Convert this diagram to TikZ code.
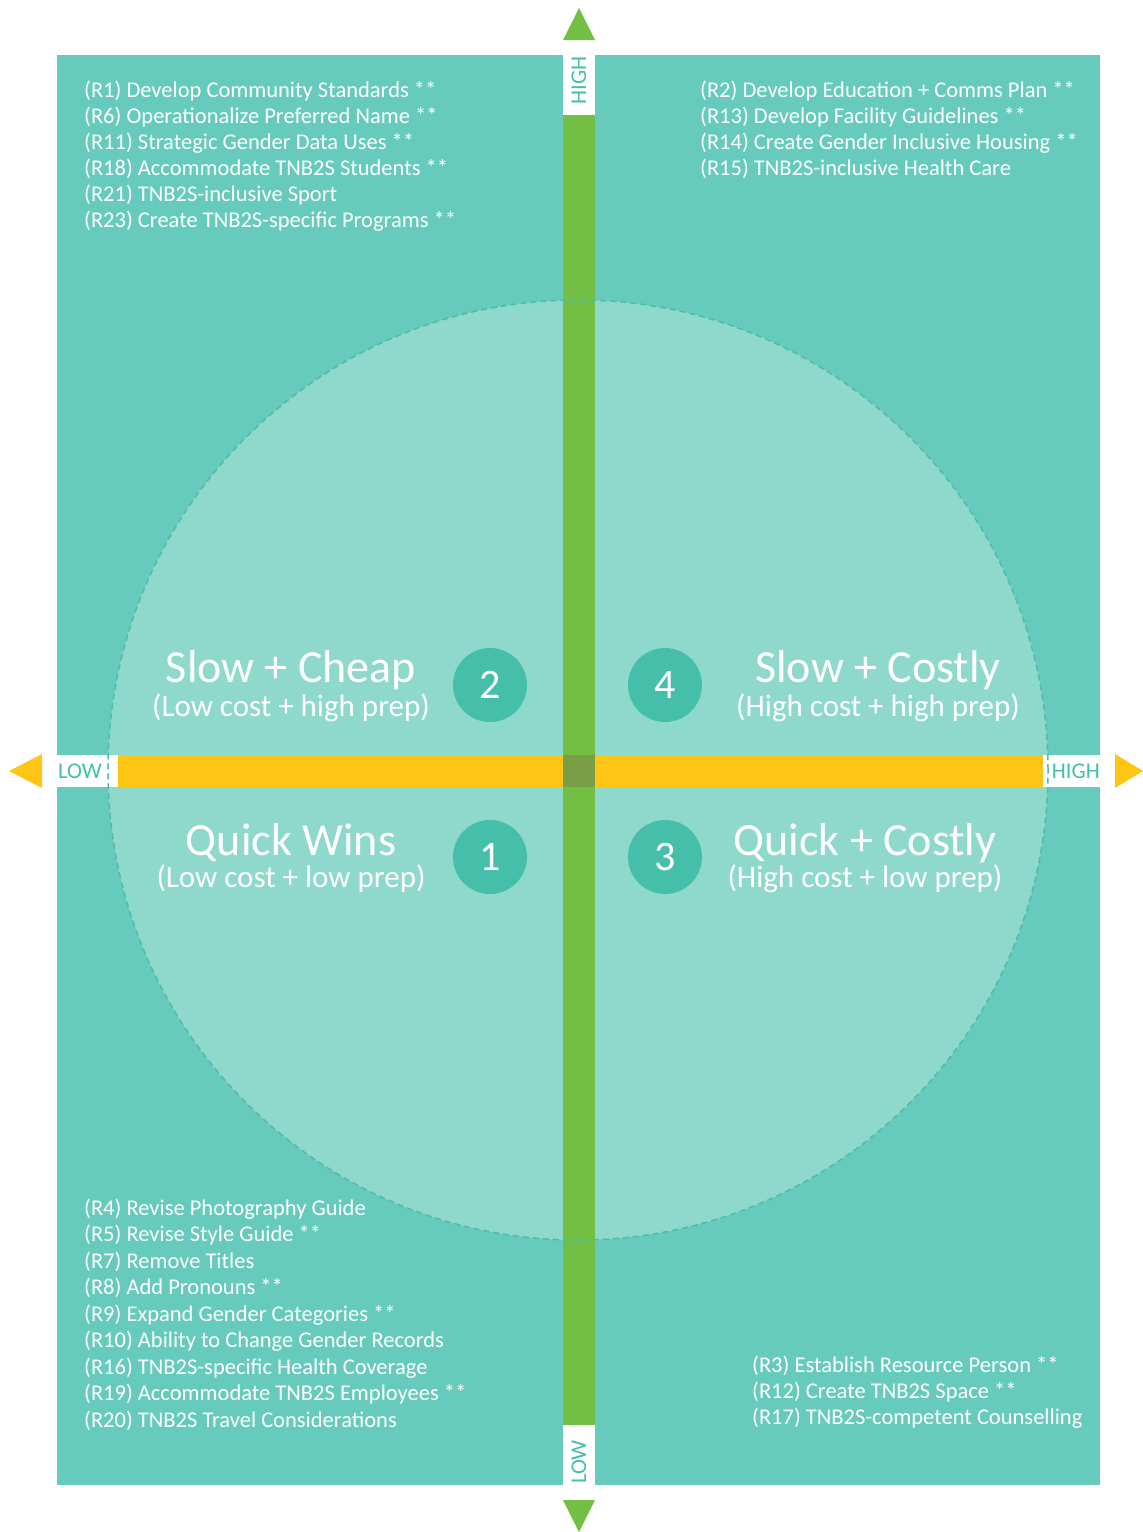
\documentclass[tikz,border=0pt]{standalone}
\usepackage{fontspec}
\setmainfont{Carlito}
\definecolor{outerteal}{HTML}{66CBBC}
\definecolor{innerteal}{HTML}{8FD9CC}
\definecolor{dashteal}{HTML}{4DBCA8}
\definecolor{badgeteal}{HTML}{45BFA9}
\definecolor{axisgreen}{HTML}{72BF44}
\definecolor{axisyellow}{HTML}{FFC515}
\definecolor{axismix}{HTML}{7A9E45}
\begin{document}
\begin{tikzpicture}[
    x=1pt, y=-1pt,
    item/.style={anchor=base west, inner sep=0pt, text=white, font=\fontsize{22.5}{24}\selectfont},
    title/.style={anchor=base, inner sep=0pt, text=white, font=\fontsize{46}{50}\selectfont},
    subtitle/.style={anchor=base, inner sep=0pt, text=white, font=\fontsize{31}{34}\selectfont},
    badge/.style={circle, fill=badgeteal, minimum size=74pt, inner sep=0pt, text=white, font=\fontsize{42}{44}\selectfont},
    axislabel/.style={inner sep=0pt, text=badgeteal, font=\fontsize{22.5}{24}\selectfont}
]
    \useasboundingbox (0,0) rectangle (1143,1532);

    % background and circle
    \fill[outerteal] (57,55) rectangle (1100,1485);
    \fill[innerteal] (578,770) circle[radius=470pt];

    % axes
    \fill[axisgreen] (563,115) rectangle (595,1425);
    \fill[axisyellow] (118,755) rectangle (1043,787);
    \fill[axismix] (563,755) rectangle (595,787);
    \fill[axisgreen] (579,8) -- (595,40) -- (563,40) -- cycle;
    \fill[axisgreen] (579,1532) -- (595,1500) -- (563,1500) -- cycle;
    \fill[axisyellow] (9,771) -- (42,754) -- (42,788) -- cycle;
    \fill[axisyellow] (1143,771) -- (1115,754) -- (1115,788) -- cycle;

    % axis labels
    \fill[white] (563,55) rectangle (595,115);
    \fill[white] (563,1425) rectangle (595,1485);
    \fill[white] (57,755) rectangle (118,787);
    \fill[white] (1043,755) rectangle (1100,787);
    \node[axislabel, rotate=90, anchor=east] (yhigh) at (579,56) {HIGH};
    \node[axislabel, rotate=90, anchor=west] (ylow) at (579,1484) {LOW};
    \node[axislabel, anchor=west] (xlow) at (58,771) {LOW};
    \node[axislabel, anchor=east] (xhigh) at (1100,771) {HIGH};

    \draw[dashteal, line width=1.5pt, dash pattern=on 6pt off 4pt] (578,770) circle[radius=470pt];

    % quadrants
    \node[badge] (q2) at (490,685) {2};
    \node[badge] (q4) at (665,685) {4};
    \node[badge] (q1) at (490,857) {1};
    \node[badge] (q3) at (665,857) {3};

    \node[title] (slowcheap) at (291,682) {Slow + Cheap};
    \node[subtitle] (slowcheapsub) at (291,716) {(Low cost + high prep)};
    \node[title] (slowcostly) at (878,682) {Slow + Costly};
    \node[subtitle] (slowcostlysub) at (878,716) {(High cost + high prep)};
    \node[title] (quickwins) at (291,855) {Quick Wins};
    \node[subtitle] (quickwinssub) at (291,887) {(Low cost + low prep)};
    \node[title] (quickcostly) at (865,855) {Quick + Costly};
    \node[subtitle] (quickcostlysub) at (865,887) {(High cost + low prep)};

    % recommendations
    \foreach \txt [count=\i from 0] in {(R1) Develop Community Standards **,
        (R6) Operationalize Preferred Name **, (R11) Strategic Gender Data Uses **,
        (R18) Accommodate TNB2S Students **, (R21) TNB2S-inclusive Sport,
        (R23) Create TNB2S-specific Programs **}
        \node[item] (tl\i) at (84,{97+26*\i}) {\txt};
    \foreach \txt [count=\i from 0] in {(R2) Develop Education + Comms Plan **,
        (R13) Develop Facility Guidelines **, (R14) Create Gender Inclusive Housing **,
        (R15) TNB2S-inclusive Health Care}
        \node[item] (tr\i) at (700,{97+26*\i}) {\txt};
    \foreach \txt [count=\i from 0] in {(R4) Revise Photography Guide,
        (R5) Revise Style Guide **, (R7) Remove Titles, (R8) Add Pronouns **,
        (R9) Expand Gender Categories **, (R10) Ability to Change Gender Records,
        (R16) TNB2S-specific Health Coverage, (R19) Accommodate TNB2S Employees **,
        (R20) TNB2S Travel Considerations}
        \node[item] (bl\i) at (84,{1215+26.5*\i}) {\txt};
    \foreach \txt [count=\i from 0] in {(R3) Establish Resource Person **,
        (R12) Create TNB2S Space **, (R17) TNB2S-competent Counselling}
        \node[item] (br\i) at (752,{1372+26*\i}) {\txt};
\end{tikzpicture}
\end{document}
